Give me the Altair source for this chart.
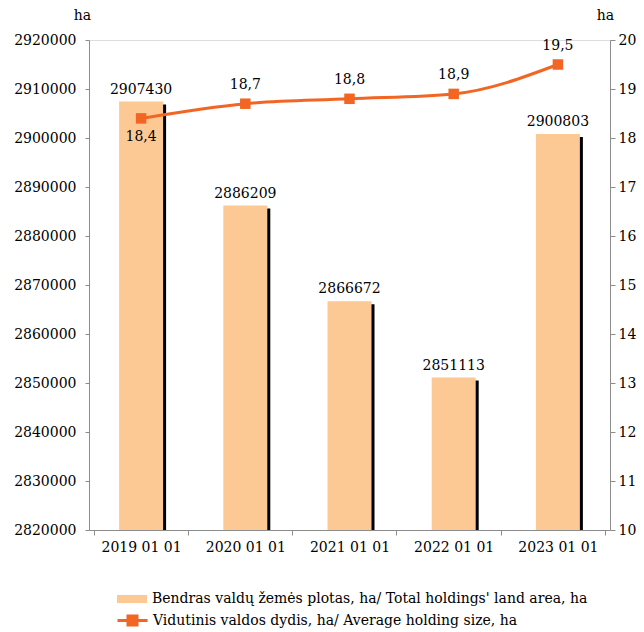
import altair as alt
import pandas as pd

dates = ["2019 01 01", "2020 01 01", "2021 01 01", "2022 01 01", "2023 01 01"]
area = [2907430, 2886209, 2866672, 2851113, 2900803]
avg = [18.4, 18.7, 18.8, 18.9, 19.5]
avg_text = ["18,4", "18,7", "18,8", "18,9", "19,5"]
left_ticks = [2820000, 2830000, 2840000, 2850000, 2860000, 2870000, 2880000, 2890000, 2900000, 2910000, 2920000]
right_ticks = list(range(10, 21))

bar_name = "Bendras valdų žemės plotas, ha/ Total holdings' land area, ha"
line_name = "Vidutinis valdos dydis, ha/ Average holding size, ha"

PEACH = "#FCC994"
ORANGE = "#F26522"
FONT = "DejaVu Serif"
FS = 14
GREY = "#8c8c8c"

df = pd.DataFrame({
    "date": dates,
    "area": area,
    "avg": avg,
    "avg_text": avg_text,
    "bar_series": bar_name,
    "line_series": line_name,
})

x_enc = alt.X("date:N", sort=dates, title=None,
              axis=alt.Axis(labelAngle=0, tickBand="extent", labelFont=FONT, labelFontSize=FS,
                            labelColor="black", domainColor=GREY, tickColor=GREY,
                            tickSize=5, labelPadding=5, labelLimit=200))

yA_scale = alt.Scale(domain=[2820000, 2920000], nice=False, zero=False)
yB_scale = alt.Scale(domain=[10, 20], nice=False, zero=False)

axisA = alt.Axis(values=left_ticks, format="d", title="ha", titleAngle=0,
                 titleX=-7, titleY=-25, titleAlign="center", titleBaseline="middle",
                 titleFont=FONT, titleFontSize=FS, titleFontWeight="normal",
                 labelFont=FONT, labelFontSize=FS, labelColor="black",
                 domainColor=GREY, tickColor=GREY, tickSize=4,
                 labelPadding=9, grid=False)
axisB = alt.Axis(orient="right", values=right_ticks, title="ha", titleAngle=0,
                 titleX=-5, titleY=-25, titleAlign="center", titleBaseline="middle",
                 titleFont=FONT, titleFontSize=FS, titleFontWeight="normal",
                 labelFont=FONT, labelFontSize=FS, labelColor="black",
                 domainColor=GREY, tickColor=GREY, tickSize=5,
                 labelPadding=3, grid=False)

yA = alt.Y("area:Q", scale=yA_scale, axis=axisA)
yB = alt.Y("avg:Q", scale=yB_scale, axis=axisB)

shadow = alt.Chart(df).mark_bar(size=44, color="black", xOffset=3, yOffset=3, clip=True).encode(
    x=x_enc, y=yA,
)

bars = alt.Chart(df).mark_bar(size=44, clip=True).encode(
    x=x_enc, y=yA,
    fill=alt.Fill("bar_series:N", scale=alt.Scale(domain=[bar_name], range=[PEACH]),
                  legend=alt.Legend(title=None, orient="none", legendX=27, legendY=543,
                                    symbolType="M-1,-0.27H1V0.27H-1Z", symbolSize=900,
                                    symbolOpacity=1, labelFont=FONT, labelFontSize=FS,
                                    labelColor="black", labelOffset=4, labelLimit=600)),
)

bar_text = alt.Chart(df).mark_text(baseline="bottom", dy=-5, font=FONT, fontSize=FS, color="black").encode(
    x=x_enc, y=yA,
    text=alt.Text("area:Q", format="d"),
)

line = alt.Chart(df).mark_line(strokeWidth=3, interpolate="monotone").encode(
    x=x_enc, y=yB,
    stroke=alt.Stroke("line_series:N", scale=alt.Scale(domain=[line_name], range=[ORANGE]),
                      legend=alt.Legend(title=None, orient="none", legendX=27, legendY=564,
                                        symbolType="M-1,0H1M-0.3,-0.3H0.3V0.3H-0.3Z", symbolSize=900,
                                        symbolStrokeWidth=3, symbolFillColor=ORANGE,
                                        labelFont=FONT, labelFontSize=FS, labelColor="black",
                                        labelOffset=4, labelLimit=600)),
)

points = alt.Chart(df).mark_square(size=110, color=ORANGE, opacity=1, filled=True).encode(
    x=x_enc, y=yB,
)

avg_above = alt.Chart(df).transform_filter(alt.datum.date != dates[0]).mark_text(
    baseline="bottom", dy=-12, font=FONT, fontSize=FS, color="black").encode(
    x=x_enc, y=yB,
    text="avg_text:N",
)

avg_below = alt.Chart(df).transform_filter(alt.datum.date == dates[0]).mark_text(
    baseline="top", dy=12, font=FONT, fontSize=FS, color="black").encode(
    x=x_enc, y=yB,
    text="avg_text:N",
)

left_layer = alt.layer(shadow, bars, bar_text)
right_layer = alt.layer(line, points, avg_above, avg_below)

chart = alt.layer(left_layer, right_layer).resolve_scale(
    y="independent", fill="independent", stroke="independent"
).properties(
    width=521, height=490,
    padding={"left": 5, "top": 0, "right": 0, "bottom": 0},
).configure_view(stroke=None).configure(background="white")

chart.save("out.html", embed_options={"renderer": "svg", "actions": False})
